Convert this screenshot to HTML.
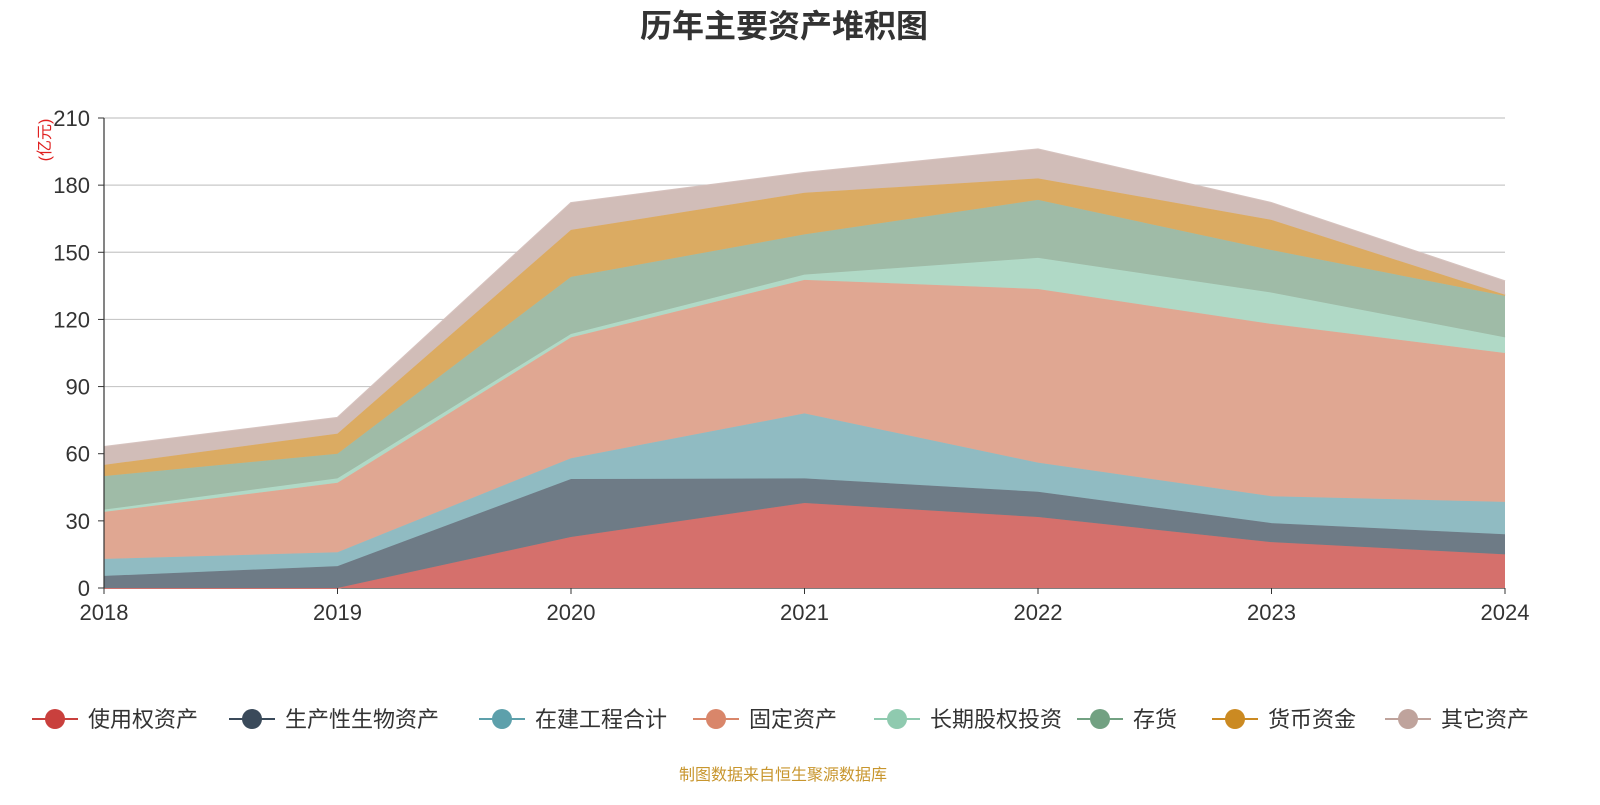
<!DOCTYPE html>
<html><head><meta charset="utf-8"><style>
body{margin:0;background:#fff;font-family:"Liberation Sans","Noto Sans CJK SC",sans-serif}
</style></head><body>
<svg id="chart" width="1600" height="800" style="font-family:'Liberation Sans','Noto Sans CJK SC',sans-serif">
<text x="784" y="37" text-anchor="middle" font-size="32" font-weight="bold" fill="#333">历年主要资产堆积图</text>
<text transform="translate(50,140) rotate(-90)" text-anchor="middle" font-size="16" fill="#e02020">(亿元)</text>
<g id="grid"></g><g id="areas"></g><g id="axes"></g><g id="legend"></g>
<text x="783" y="780" text-anchor="middle" font-size="16" fill="#c8962e">制图数据来自恒生聚源数据库</text>
</svg>
<script>
const years=["2018","2019","2020","2021","2022","2023","2024"];
const seriesNames=["使用权资产","生产性生物资产","在建工程合计","固定资产","长期股权投资","存货","货币资金","其它资产"];
const rouAssets=[0,0,22.8,38,31.7,20.5,15];
const bioAssets=[5.4,9.8,25.9,11,11.3,8.5,9];
const construction=[7.6,6.2,9.3,29,13,12,14.5];
const fixedAssets=[21,31,54,59.7,77.6,77,66.5];
const equityInv=[1,2,1.5,2.3,13.9,14,7];
const inventory=[15,11,25.5,18,25.9,19,18.5];
const cash=[5,9,21,18.6,9.6,13.5,0.5];
const otherAssets=[8,7,12,8.9,13,7.5,6];
const yTicks=[0,30,60,90,120,150,180,210];
const series=[rouAssets,bioAssets,construction,fixedAssets,equityInv,inventory,cash,otherAssets];
const fills=["#d5706c","#6e7b86","#90bbc2","#e0a792","#b0d9c6","#9fbba7","#dbab62","#d1bdb8"];
const strokes=["#c9403d","#3a4a5a","#5da0ab","#d9866a","#8fcaaf","#72a182","#cb8a22","#bfa39c"];
const NS="http://www.w3.org/2000/svg";
const x0=104,x1=1505,yb=588,yt=118;
const X=i=>x0+(x1-x0)*i/(years.length-1);
const Y=v=>yb-(yb-yt)*v/210;
function mk(t,a,p){const e=document.createElementNS(NS,t);for(const k in a)e.setAttribute(k,a[k]);p.appendChild(e);return e;}
const grid=document.getElementById('grid'),axes=document.getElementById('axes'),areas=document.getElementById('areas'),legend=document.getElementById('legend');
yTicks.forEach(t=>{
 const l=mk('line',{x1:x0,x2:x1,y1:Y(t),y2:Y(t),stroke:t?'#c8c8c8':'#333','stroke-width':1.2},grid);
 
 
 const tk=mk('line',{x1:x0-6,x2:x0,y1:Y(t),y2:Y(t),stroke:'#333'},axes);
 
 
 const tx=mk('text',{x:x0-14,y:Y(t)+8,'text-anchor':'end','font-size':22,fill:'#333'},axes);tx.textContent=t;
 
 
});
const ya=mk('line',{x1:x0,x2:x0,y1:yt,y2:yb,stroke:'#333','stroke-width':1.2},axes);


years.forEach((y,i)=>{
 const tk=mk('line',{x1:X(i),x2:X(i),y1:yb,y2:yb+6,stroke:'#333'},axes);
 
 
 const tx=mk('text',{x:X(i),y:620,'text-anchor':'middle','font-size':22,fill:'#333'},axes);tx.textContent=y;
 
 
});
let base=years.map(()=>0);
series.forEach((s,k)=>{
 const top=base.map((b,i)=>b+s[i]);
 let d='M'+top.map((v,i)=>X(i)+','+Y(v)).join('L');
 for(let i=years.length-1;i>=0;i--)d+='L'+X(i)+','+Y(base[i]);
 const a=mk('path',{d:d+'Z',fill:fills[k],stroke:'none'},areas);
 
 
 const ln=mk('polyline',{points:top.map((v,i)=>X(i)+','+Y(v)).join(' '),fill:'none',stroke:fills[k],'stroke-width':2,opacity:0.9},areas);
 
 
 base=top;
});
const lx=[55,252,502,716,897,1100,1235,1408];
seriesNames.forEach((n,k)=>{
 const g=mk('g',{},legend);
 
 
 mk('line',{x1:lx[k]-23,x2:lx[k]+23,y1:719,y2:719,stroke:strokes[k],'stroke-width':2},g);
 mk('circle',{cx:lx[k],cy:719,r:10,fill:strokes[k]},g);
 const t=mk('text',{x:lx[k]+33,y:727,'font-size':22,fill:'#333'},g);t.textContent=n;
});
</script>
</body></html>
